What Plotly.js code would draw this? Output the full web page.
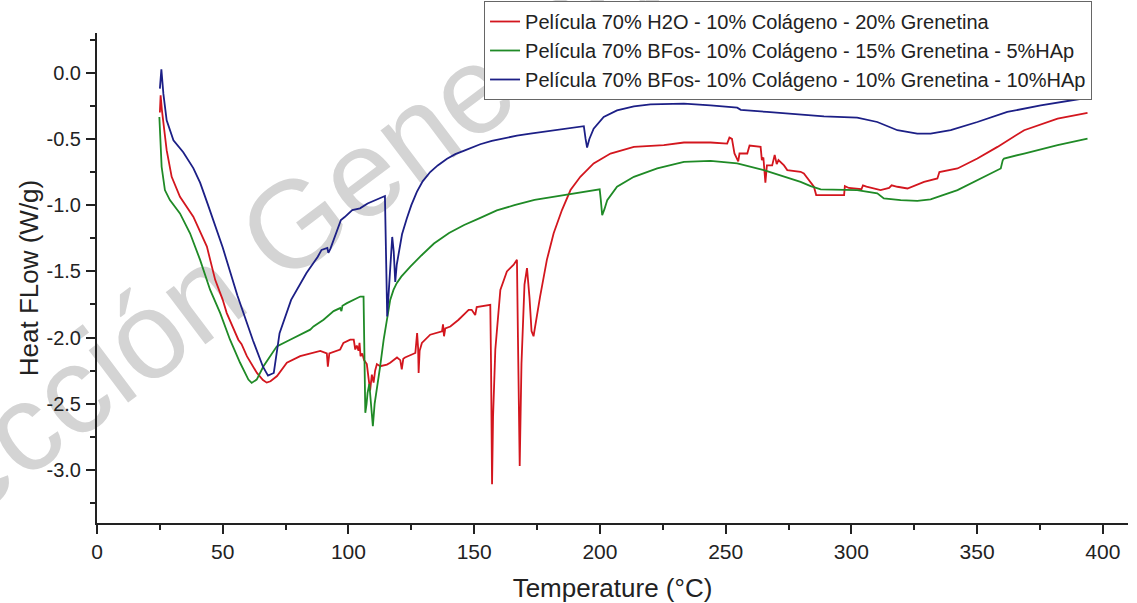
<!DOCTYPE html>
<html>
<head>
<meta charset="utf-8">
<script src="https://cdn.plot.ly/plotly-3.0.1.min.js"></script>
<style>html,body{margin:0;padding:0;background:#fff;}#chart{width:1137px;height:603px;}</style>
</head>
<body>
<div id="chart"></div>
<script>
// ---- Data ----
const seriesNames = [
  "Película 70% H2O - 10% Colágeno - 20% Grenetina",
  "Película 70% BFos- 10% Colágeno - 15% Grenetina - 5%HAp",
  "Película 70% BFos- 10% Colágeno - 10% Grenetina - 10%HAp"
];

const redT = [25.0,25.3,25.8,26.4,27.7,29.7,33.0,38.3,43.7,47.0,50.0,51.6,54.3,55.5,56.2,57.5,59.6,63.6,66.0,67.5,69.0,71.6,75.5,80.8,86.1,88.8,91.4,91.8,92.4,96.7,98.0,100.7,102.1,102.7,103.3,104.0,104.4,104.8,105.5,106.2,107.3,107.9,108.6,109.3,110.0,110.6,111.3,112.6,115.3,116.6,119.3,120.6,121.2,121.8,122.5,126.6,127.3,127.7,127.9,128.3,129.2,132.5,137.2,137.6,138.0,138.5,140.5,143.8,147.8,149.0,150.4,151.0,152.4,156.4,156.7,157.1,157.5,158.4,160.4,163.0,165.7,167.0,167.4,168.1,168.8,170.0,171.0,172.0,172.8,173.6,176.2,178.9,181.6,184.9,188.3,192.2,197.5,204.2,213.5,225.4,233.4,244.0,250.6,251.5,252.5,253.5,255.0,255.5,258.6,259.5,263.9,264.4,265.0,265.8,266.4,268.5,269.5,270.3,271.0,273.2,274.5,279.8,281.1,285.1,286.0,297.1,297.4,299.0,304.0,304.6,306.0,311.6,315.0,316.0,318.3,322.3,328.9,334.2,335.0,342.2,350.1,358.1,368.7,382.0,393.9];
const redHF = [-0.30,-0.17,-0.28,-0.39,-0.585,-0.786,-0.937,-1.087,-1.313,-1.564,-1.715,-1.815,-1.94,-1.99,-2.016,-2.05,-2.14,-2.267,-2.32,-2.34,-2.33,-2.29,-2.19,-2.14,-2.116,-2.10,-2.12,-2.22,-2.12,-2.09,-2.04,-2.016,-2.016,-2.09,-2.06,-2.10,-2.04,-2.14,-2.12,-2.17,-2.20,-2.32,-2.40,-2.28,-2.34,-2.25,-2.20,-2.216,-2.204,-2.19,-2.15,-2.17,-2.24,-2.16,-2.15,-2.116,-1.965,-2.08,-2.267,-2.10,-2.04,-1.978,-1.953,-1.90,-1.99,-1.93,-1.916,-1.865,-1.79,-1.79,-1.83,-1.77,-1.765,-1.752,-2.20,-3.108,-2.60,-2.09,-1.64,-1.50,-1.45,-1.413,-2.00,-2.97,-2.20,-1.60,-1.476,-1.70,-1.95,-1.99,-1.69,-1.413,-1.212,-1.037,-0.886,-0.786,-0.685,-0.61,-0.56,-0.547,-0.527,-0.527,-0.535,-0.49,-0.50,-0.61,-0.67,-0.61,-0.61,-0.55,-0.56,-0.66,-0.64,-0.83,-0.70,-0.70,-0.62,-0.69,-0.66,-0.70,-0.735,-0.748,-0.76,-0.861,-0.924,-0.924,-0.856,-0.87,-0.88,-0.85,-0.86,-0.886,-0.87,-0.85,-0.861,-0.874,-0.824,-0.798,-0.75,-0.723,-0.648,-0.56,-0.434,-0.346,-0.304];

const greenT = [24.8,25.0,25.1,25.7,27.0,29.0,33.0,37.0,41.0,45.0,49.0,52.9,56.9,60.2,61.5,63.5,66.2,68.9,71.5,76.8,84.8,86.1,90.1,94.1,96.7,97.2,97.6,99.4,102.1,104.7,106.0,106.4,106.7,107.2,107.6,108.3,109.0,109.7,110.4,111.3,112.6,114.0,115.3,116.6,117.9,119.2,121.0,124.6,129.0,134.0,140.0,146.0,152.0,159.0,166.0,174.0,182.0,190.0,199.9,200.3,200.9,201.8,202.9,206.8,213.5,222.8,233.4,244.0,254.6,265.2,273.2,279.8,283.8,287.8,302.3,310.3,312.9,319.6,326.2,331.5,342.2,352.8,359.4,360.2,360.7,368.7,382.0,393.9];
const greenHF = [-0.334,-0.45,-0.51,-0.71,-0.886,-0.962,-1.062,-1.212,-1.413,-1.64,-1.815,-2.016,-2.19,-2.317,-2.342,-2.317,-2.217,-2.142,-2.066,-2.016,-1.94,-1.916,-1.865,-1.80,-1.777,-1.80,-1.76,-1.74,-1.715,-1.69,-1.69,-2.20,-2.568,-2.50,-2.417,-2.35,-2.50,-2.669,-2.50,-2.367,-2.217,-2.016,-1.865,-1.715,-1.64,-1.589,-1.54,-1.464,-1.38,-1.29,-1.21,-1.15,-1.10,-1.04,-1.00,-0.96,-0.935,-0.911,-0.881,-0.95,-1.075,-1.03,-0.962,-0.861,-0.786,-0.723,-0.673,-0.666,-0.685,-0.735,-0.786,-0.824,-0.856,-0.881,-0.886,-0.911,-0.949,-0.962,-0.967,-0.956,-0.886,-0.786,-0.723,-0.66,-0.648,-0.61,-0.547,-0.497];

const blueT = [25.0,25.6,26.4,27.7,30.4,34.3,38.3,41.0,44.0,50.0,55.8,62.0,66.0,68.0,70.3,72.6,77.2,83.3,87.8,89.3,91.6,92.0,92.8,95.4,97.0,98.5,101.5,104.6,107.6,114.5,115.0,115.4,116.2,117.4,118.0,118.6,119.2,121.3,123.2,125.0,127.2,129.5,132.5,135.5,139.2,142.5,145.8,149.0,152.4,157.0,161.7,167.0,172.3,178.0,184.3,189.0,193.6,194.3,194.9,195.8,197.5,201.5,206.8,213.5,220.1,233.4,244.0,254.6,256.0,266.4,275.8,289.1,302.3,310.3,318.3,326.2,331.5,339.5,350.1,362.0,375.3,393.9];
const blueHF = [-0.12,0.025,-0.16,-0.36,-0.51,-0.60,-0.72,-0.83,-0.99,-1.32,-1.68,-2.02,-2.22,-2.287,-2.267,-1.966,-1.715,-1.513,-1.389,-1.338,-1.323,-1.36,-1.33,-1.187,-1.112,-1.09,-1.037,-1.024,-0.987,-0.931,-1.50,-1.84,-1.60,-1.24,-1.35,-1.58,-1.45,-1.22,-1.10,-1.0,-0.90,-0.82,-0.75,-0.70,-0.65,-0.615,-0.59,-0.565,-0.54,-0.515,-0.495,-0.475,-0.46,-0.445,-0.43,-0.418,-0.404,-0.50,-0.565,-0.50,-0.422,-0.334,-0.284,-0.254,-0.239,-0.234,-0.246,-0.264,-0.28,-0.296,-0.309,-0.329,-0.339,-0.372,-0.434,-0.46,-0.46,-0.434,-0.372,-0.296,-0.246,-0.189];

const xTickVals = [0,50,100,150,200,250,300,350,400];
const xTickText = ["0","50","100","150","200","250","300","350","400"];
const yTickVals = [0.0,-0.5,-1.0,-1.5,-2.0,-2.5,-3.0];
const yTickText = ["0.0","-0.5","-1.0","-1.5","-2.0","-2.5","-3.0"];
const xTitle = "Temperature (°C)";
const yTitle = "Heat FLow (W/g)";
const watermarkText = "Corrección Generada";

// ---- Styles ----
const colors = ["#d3161e", "#1f8a26", "#1c1f86"];
const FONT = "Arial, 'Liberation Sans', sans-serif";

const traces = [
  {x: redT, y: redHF, name: seriesNames[0], type: "scatter", mode: "lines", line: {color: colors[0], width: 1.8}},
  {x: greenT, y: greenHF, name: seriesNames[1], type: "scatter", mode: "lines", line: {color: colors[1], width: 1.8}},
  {x: blueT, y: blueHF, name: seriesNames[2], type: "scatter", mode: "lines", line: {color: colors[2], width: 1.8}}
];

const axisCommon = {
  showline: true, linecolor: "#222", linewidth: 2,
  ticks: "outside", ticklen: 9, tickwidth: 2, tickcolor: "#222",
  showgrid: false, zeroline: false, automargin: true,
  tickfont: {family: FONT, size: 21, color: "#222"},
  mirror: false
};

const layout = {
  width: 1137, height: 603,
  margin: {l: 97, r: 9, t: 33, b: 80, autoexpand: false},
  paper_bgcolor: "#fff", plot_bgcolor: "#fff",
  font: {family: FONT, color: "#222"},
  showlegend: true,
  legend: {
    x: 0.3754, y: 1.0653, xanchor: "left", yanchor: "top",
    bordercolor: "#666", borderwidth: 1, bgcolor: "#fff",
    font: {family: FONT, size: 20, color: "#222"},
    tracegroupgap: 0, itemwidth: 30
  },
  xaxis: Object.assign({}, axisCommon, {
    range: [0, 410], tickmode: "array", tickvals: xTickVals, ticktext: xTickText,
    ticklabelstandoff: 0,
    minor: {ticks: "outside", ticklen: 5, tickwidth: 2, tickcolor: "#222", dtick: 25, tick0: 0, showgrid: false},
    title: {text: xTitle, font: {family: FONT, size: 26, color: "#222"}, standoff: 17}
  }),
  yaxis: Object.assign({}, axisCommon, {
    range: [-3.4, 0.3], tickmode: "array", tickvals: yTickVals, ticktext: yTickText,
    ticklabelstandoff: 1, tickfont: {family: FONT, size: 20, color: "#222"},
    minor: {ticks: "outside", ticklen: 5, tickwidth: 2, tickcolor: "#222", dtick: 0.25, tick0: 0, showgrid: false},
    title: {text: yTitle, font: {family: FONT, size: 26, color: "#222"}, standoff: 0}
  }),
  shapes: [{
    type: "line", xref: "paper", yref: "paper", layer: "below",
    x0: 0.1135, y0: 0.5195, x1: 0.1155, y1: 0.5205,
    line: {color: "rgba(0,0,0,0)", width: 0},
    label: {text: watermarkText, textposition: "middle", textangle: -37, xanchor: "center", yanchor: "middle",
            font: {family: FONT, size: 124, color: "#d4d4d4"}}
  }]
};

Plotly.newPlot("chart", traces, layout, {displayModeBar: false, staticPlot: true});
</script>
</body>
</html>
